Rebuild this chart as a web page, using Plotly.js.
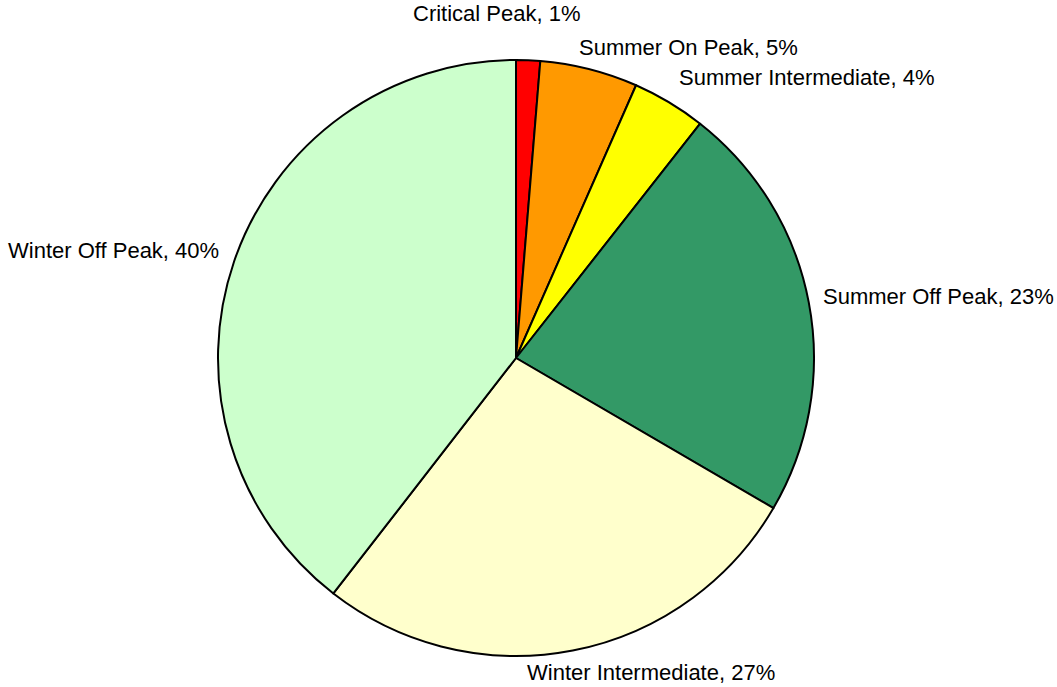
<!DOCTYPE html>
<html>
<head>
<meta charset="utf-8">
<script src="https://cdn.plot.ly/plotly-3.0.1.min.js"></script>
<style>html,body{margin:0;padding:0;background:#fff;}#chart{width:1057px;height:687px;}</style>
</head>
<body>
<div id="chart"></div>
<script>
var categories = ["Critical Peak", "Summer On Peak", "Summer Intermediate", "Summer Off Peak", "Winter Intermediate", "Winter Off Peak"];
var values = [1.3, 5.3, 4.0, 22.8, 27.1, 39.5];
var percentLabels = ["1%", "5%", "4%", "23%", "27%", "40%"];
var colors = ["#FF0000", "#FF9900", "#FFFF00", "#339966", "#FFFFCC", "#CCFFCC"];

// Label placement (pixel positions of each label's anchor), layout only
var labelX = [497, 577, 677, 821, 525, 221];
var labelY = [14, 48, 77, 296, 672, 251];
var labelXAnchor = ["center", "left", "left", "left", "left", "right"];

var W = 1057, H = 687;
var M = { l: 218, r: 243, t: 60, b: 31 };
var plotW = W - M.l - M.r, plotH = H - M.t - M.b;

var trace = {
  type: "pie",
  labels: categories,
  values: values,
  textinfo: "none",
  sort: false,
  direction: "clockwise",
  rotation: 0,
  marker: { colors: colors, line: { color: "#000000", width: 2 } },
  hoverinfo: "none",
  showlegend: false
};

var annotations = categories.map(function (c, i) {
  return {
    text: c + ", " + percentLabels[i],
    xref: "paper", yref: "paper",
    x: (labelX[i] - M.l) / plotW,
    y: 1 - (labelY[i] - M.t) / plotH,
    xanchor: labelXAnchor[i],
    yanchor: "middle",
    showarrow: false,
    font: { family: "Liberation Sans, Arial, sans-serif", size: 22, color: "#000000" }
  };
});

var layout = {
  width: W,
  height: H,
  margin: M,
  paper_bgcolor: "#ffffff",
  plot_bgcolor: "#ffffff",
  showlegend: false,
  annotations: annotations
};

Plotly.newPlot("chart", [trace], layout, { displayModeBar: false, staticPlot: true });
</script>
</body>
</html>
